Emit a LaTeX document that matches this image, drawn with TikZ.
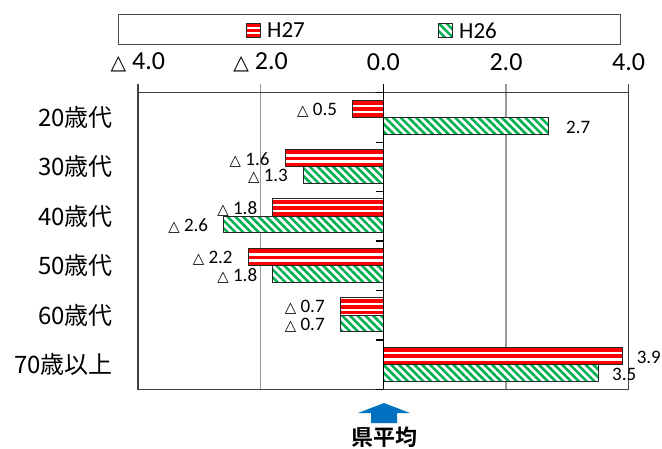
\documentclass[tikz,border=0pt]{standalone}
\usepackage{fontspec}
\usepackage{graphicx}
\setmainfont{Carlito}
\newfontfamily\jpfont{Noto Sans CJK JP}
\newfontfamily\jpbold{Noto Sans CJK JP Bold}
\newfontfamily\symfont{DejaVu Sans}
\usepackage{tikz}
\usetikzlibrary{calc,patterns.meta}

\definecolor{barred}{RGB}{255,0,0}
\definecolor{bargreen}{RGB}{0,176,80}
\definecolor{avgblue}{RGB}{0,112,192}
\newcommand{\tri}{\scalebox{0.78}{\symfont △}\ }
\newcommand{\redstripe}[2]{\fill[barred]
  ($(path picture bounding box.north west)!#1!(path picture bounding box.south west)$) rectangle
  ($(path picture bounding box.north east)!#2!(path picture bounding box.south east)$);}

\begin{document}
\begin{tikzpicture}[x=1pt, y=-1pt,
  h27/.style={draw=black!85, line width=0.9pt, fill=white,
    path picture={\redstripe{0.06}{0.28}\redstripe{0.42}{0.64}\redstripe{0.78}{0.97}}},
  h26/.style={draw=black!85, line width=0.9pt, preaction={fill=white},
    pattern={Lines[angle=-45,distance=5.5pt,line width=2.6pt]}, pattern color=bargreen},
  vlab/.style={inner sep=0pt, font=\fontsize{19}{19}\selectfont},
  tlab/.style={inner sep=0pt, font=\fontsize{26}{26}\selectfont},
  catlab/.style={inner sep=0pt, anchor=east, font=\jpfont\fontsize{24}{24}\selectfont}]
\useasboundingbox (0,0) rectangle (662,448);

% legend
\draw[black!70, line width=1pt] (118,14) rectangle (620,44);
\draw[h27] (246,23.5) rectangle (260,37.5);
\node[inner sep=0pt, anchor=west, font=\fontsize{23}{23}\selectfont] (k27) at (267,30.5) {H27};
\draw[h26] (438,23.5) rectangle (452,37.5);
\node[inner sep=0pt, anchor=west, font=\fontsize{23}{23}\selectfont] (k26) at (459,30.5) {H26};

% categories
\node[catlab] (c20) at (113,117.4) {20歳代};
\node[catlab] (c30) at (113,166.8) {30歳代};
\node[catlab] (c40) at (113,216.3) {40歳代};
\node[catlab] (c50) at (113,265.7) {50歳代};
\node[catlab] (c60) at (113,315.1) {60歳代};
\node[catlab] (c70) at (113,364.6) {70歳以上};

\begin{scope}[shift={(383.3,0)}, x=61.35pt]
% axis labels
\node[tlab] (tm4) at (-4,62) {\tri 4.0};
\node[tlab] (tm2) at (-2,62) {\tri 2.0};
\node[tlab] (t0) at (0,62) {0.0};
\node[tlab] (t2) at (2,62) {2.0};
\node[tlab] (t4) at (4,62) {4.0};

% grid and frame
\draw[black!40, line width=1.4pt] (-2,84) -- (-2,389.3);
\draw[black!40, line width=1.4pt] (2,84) -- (2,389.3);
\draw[black!75, line width=1.3pt] (-4,92.7) rectangle (4,389.3);
\draw[black!75, line width=1.3pt] (-4,84) -- (-4,92.7);
\draw[black!75, line width=1.3pt] (4,84) -- (4,92.7);

% H27
\draw[h27] (0,100.0) rectangle (-0.5,117.3);
\draw[h27] (0,149.4) rectangle (-1.6,166.7);
\draw[h27] (0,198.9) rectangle (-1.8,216.2);
\draw[h27] (0,248.3) rectangle (-2.2,265.6);
\draw[h27] (0,297.7) rectangle (-0.7,315.0);
\draw[h27] (0,347.2) rectangle (3.9,364.5);
% H26
\draw[h26] (0,117.3) rectangle (2.7,134.0);
\draw[h26] (0,166.7) rectangle (-1.3,183.4);
\draw[h26] (0,216.2) rectangle (-2.6,232.9);
\draw[h26] (0,265.6) rectangle (-1.8,282.3);
\draw[h26] (0,315.0) rectangle (-0.7,331.7);
\draw[h26] (0,364.5) rectangle (3.5,381.2);

% zero axis
\draw[black, line width=1.3pt] (0,84) -- (0,389.3);
\draw[black, line width=1.2pt] (-0.12,92.7) -- (0,92.7);
\draw[black, line width=1.2pt] (-0.12,142.1) -- (0,142.1);
\draw[black, line width=1.2pt] (-0.12,191.6) -- (0,191.6);
\draw[black, line width=1.2pt] (-0.12,241.0) -- (0,241.0);
\draw[black, line width=1.2pt] (-0.12,290.4) -- (0,290.4);
\draw[black, line width=1.2pt] (-0.12,339.9) -- (0,339.9);
\draw[black, line width=1.2pt] (-0.12,389.3) -- (0,389.3);

% values
\node[vlab, anchor=east, xshift=-15.5pt] (v27a) at (-0.5,110.3) {\tri 0.5};
\node[vlab, anchor=east, xshift=-15.5pt] (v27b) at (-1.6,159.7) {\tri 1.6};
\node[vlab, anchor=east, xshift=-15.5pt] (v27c) at (-1.8,209.2) {\tri 1.8};
\node[vlab, anchor=east, xshift=-15.5pt] (v27d) at (-2.2,258.6) {\tri 2.2};
\node[vlab, anchor=east, xshift=-15.5pt] (v27e) at (-0.7,307.3) {\tri 0.7};
\node[vlab, anchor=west, xshift=14pt] (v27f) at (3.9,357.5) {3.9};
\node[vlab, anchor=west, xshift=17pt] (v26a) at (2.7,127.2) {2.7};
\node[vlab, anchor=east, xshift=-15.5pt] (v26b) at (-1.3,176.6) {\tri 1.3};
\node[vlab, anchor=east, xshift=-15.5pt] (v26c) at (-2.6,226.1) {\tri 2.6};
\node[vlab, anchor=east, xshift=-15.5pt] (v26d) at (-1.8,275.5) {\tri 1.8};
\node[vlab, anchor=east, xshift=-15.5pt] (v26e) at (-0.7,325.6) {\tri 0.7};
\node[vlab, anchor=west, xshift=14pt] (v26f) at (3.5,374.4) {3.5};
\end{scope}

% prefecture average
\fill[avgblue] (384,403) -- (410,413) -- (397,413) -- (397,423) -- (371,423) -- (371,413) -- (358,413) -- cycle;
\node[inner sep=0pt, font=\jpbold\fontsize{22}{22}\selectfont] (avg) at (384,437) {県平均};
\end{tikzpicture}
\end{document}
